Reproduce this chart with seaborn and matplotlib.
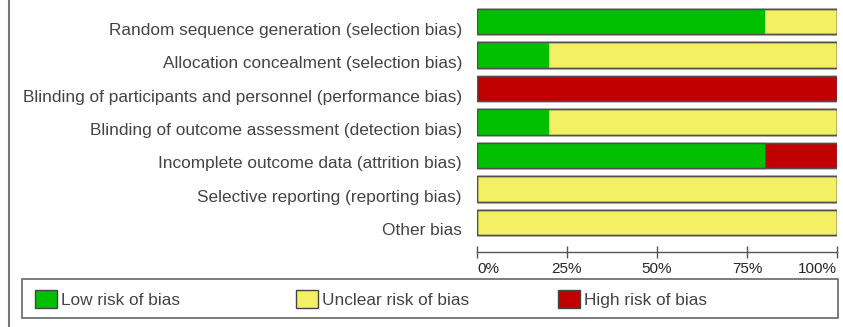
# Risk of bias summary graph, stacked horizontal bars (percent of studies)
import matplotlib
matplotlib.use("Agg")
import matplotlib.pyplot as plt
import matplotlib.transforms as mtransforms
import seaborn as sns
import numpy as np
import pandas as pd
from matplotlib.patches import Patch, Rectangle
from matplotlib.lines import Line2D

sns.set_theme(style="white")
plt.rcParams['font.family'] = ['Liberation Sans', 'DejaVu Sans']

# Data
domains = [
    "Random sequence generation (selection bias)",
    "Allocation concealment (selection bias)",
    "Blinding of participants and personnel (performance bias)",
    "Blinding of outcome assessment (detection bias)",
    "Incomplete outcome data (attrition bias)",
    "Selective reporting (reporting bias)",
    "Other bias",
]
low_risk = [80, 20, 0, 20, 80, 0, 0]
unclear_risk = [20, 80, 0, 80, 0, 100, 100]
high_risk = [0, 0, 100, 0, 20, 0, 0]
risk_labels = ["Low risk of bias", "Unclear risk of bias", "High risk of bias"]
risk_colors = ["#00c000", "#f4f064", "#c00000"]
tick_values = [0, 25, 50, 75, 100]

df = pd.DataFrame({"domain": domains, "low": low_risk, "unclear": unclear_risk, "high": high_risk})
df["low_unclear"] = df["low"] + df["unclear"]
df["total"] = df["low_unclear"] + df["high"]

fig = plt.figure(figsize=(8.43, 3.27), dpi=100)
W, H = 843, 327
ax = fig.add_axes([477 / W, 1 - 239 / H, 360 / W, 234 / H])

# stacked bars: draw cumulative totals from back to front
edge = "#505050"
bw = 0.76
sns.barplot(data=df, y="domain", x="total", color=risk_colors[2], orient="h",
            width=bw, edgecolor=edge, linewidth=1.0, ax=ax, saturation=1)
sns.barplot(data=df, y="domain", x="low_unclear", color=risk_colors[1], orient="h",
            width=bw, edgecolor=edge, linewidth=1.0, ax=ax, saturation=1)
sns.barplot(data=df, y="domain", x="low", color=risk_colors[0], orient="h",
            width=bw, edgecolor="none", linewidth=0, ax=ax, saturation=1)
# redraw outline on top
sns.barplot(data=df, y="domain", x="total", color="none", fill=False, orient="h",
            width=bw, edgecolor=edge, linewidth=1.0, ax=ax)

ax.set_xlim(0, 100)
ax.set_ylim(6.5, -0.5)
ax.set_xlabel("")
ax.set_ylabel("")
ax.set_xticks(tick_values)
ax.set_xticklabels([f"{v}%" for v in tick_values], fontsize=11.3, color="#444444")
ax.tick_params(axis="y", length=0, pad=10.8, labelsize=12.4, labelcolor="#444444")
ax.tick_params(axis="x", direction="inout", length=8.6, width=1, color="#555555", pad=3.5, bottom=True)
for s in ["top", "right", "left"]:
    ax.spines[s].set_visible(False)
ax.spines["bottom"].set_position(("outward", 9))
ax.spines["bottom"].set_color("#555555")
ax.spines["bottom"].set_linewidth(1)
ax.set_facecolor("none")

# left frame line of the figure
fig.add_artist(Line2D([8.5 / W, 8.5 / W], [0, 1], transform=fig.transFigure, color="#777777", lw=1.5))

# legend frame
fig.add_artist(Rectangle((22 / W, 1 - 318 / H), 816 / W, 39 / H, transform=fig.transFigure,
                         fill=False, edgecolor="#666666", lw=1.2))
legend_x = [35 / W, 296 / W, 558 / W]
for lab, col, lx in zip(risk_labels, risk_colors, legend_x):
    fig.legend(handles=[Patch(facecolor=col, edgecolor="#444444", label=lab)],
               loc="center left", bbox_to_anchor=(lx, 1 - 299 / H), frameon=False,
               handlelength=1.25, handleheight=1.25, handletextpad=0.25, borderpad=0,
               borderaxespad=0, fontsize=12.4, labelcolor="#444444")

fig.canvas.draw()
# first and last percent labels are aligned to the ends of the axis
xticks = ax.xaxis.get_major_ticks()
xticks[0].label1.set_horizontalalignment("left")
xticks[-1].label1.set_horizontalalignment("right")
# category labels sit slightly below bar centres in the reference
shift = mtransforms.ScaledTranslation(0, -5 / 72, fig.dpi_scale_trans)
for t in ax.yaxis.get_major_ticks():
    t.label1.set_transform(t.label1.get_transform() + shift)

fig.savefig("out.png", dpi=100)
